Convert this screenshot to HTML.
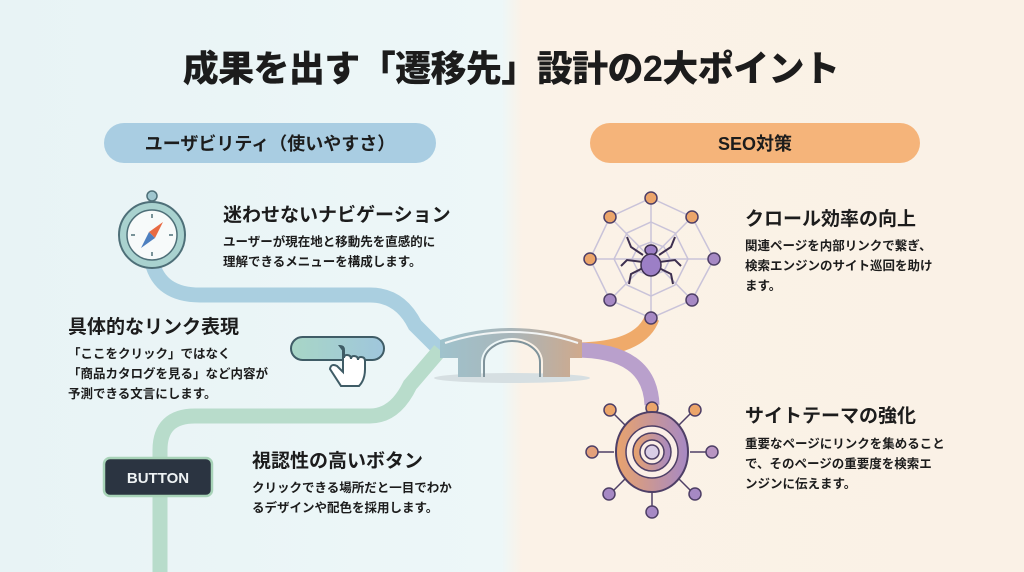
<!DOCTYPE html>
<html><head><meta charset="utf-8"><style>
body{margin:0;width:1024px;height:572px;overflow:hidden;font-family:"Liberation Sans","Noto Sans CJK JP",sans-serif;}
svg{display:block}
text{font-family:"Liberation Sans","Noto Sans CJK JP",sans-serif;fill:#1c1c1c;font-weight:bold}
.h{font-size:19px}
.b{font-size:12.5px}
</style></head><body>
<svg width="1024" height="572" viewBox="0 0 1024 572" xmlns="http://www.w3.org/2000/svg">
<defs>
<linearGradient id="bg" x1="0" x2="1"><stop offset="0" stop-color="#e8f3f5"/><stop offset="0.49" stop-color="#edf7f8"/><stop offset="0.51" stop-color="#fbf2e7"/><stop offset="1" stop-color="#faf1e6"/></linearGradient>
<linearGradient id="br" x1="0" x2="1"><stop offset="0" stop-color="#9fc2cc"/><stop offset="0.5" stop-color="#a9b6ba"/><stop offset="1" stop-color="#cfa98c"/></linearGradient>
<linearGradient id="tg" x1="0" x2="1"><stop offset="0" stop-color="#e9a36c"/><stop offset="1" stop-color="#a689c4"/></linearGradient>
<linearGradient id="lb" x1="0" x2="1"><stop offset="0" stop-color="#a8d6c6"/><stop offset="1" stop-color="#9fc6dc"/></linearGradient>
</defs>
<rect width="1024" height="572" fill="url(#bg)"/>
<text x="511" y="81" text-anchor="middle" style="font-size:36px;font-weight:900;letter-spacing:-0.6px">成果を出す「遷移先」設計の2大ポイント</text>
<rect x="104" y="123" width="332" height="40" rx="20" fill="#a9cde2"/>
<text x="270" y="150" text-anchor="middle" style="font-size:18px">ユーザビリティ（使いやすさ）</text>
<rect x="590" y="123" width="330" height="40" rx="20" fill="#f5b47a"/>
<text x="755" y="150" text-anchor="middle" style="font-size:18px">SEO対策</text>

<path d="M152 262 Q160 295 200 295 L370 295 Q400 295 415 325 L440 350" fill="none" stroke="#aacfe0" stroke-width="15"/>
<path d="M160 572 L160 450 Q160 416 195 416 L370 416 Q395 416 410 385 L440 350" fill="none" stroke="#b8dccb" stroke-width="15"/>
<path d="M575 350 Q640 350 652 318" fill="none" stroke="#efaa6a" stroke-width="15"/>
<path d="M575 350 Q650 350 652 405" fill="none" stroke="#b9a0cc" stroke-width="15"/>
<ellipse cx="512" cy="378" rx="78" ry="5" fill="#d6dfe2"/>
<path d="M440 340 Q512 316 582 340 L582 358 L570 358 L570 377 L543 377 L543 362 A31 24 0 0 0 481 362 L481 377 L458 377 L458 358 L440 358 Z" fill="url(#br)"/>
<path d="M445 343 Q512 321 578 343" fill="none" stroke="#f2f5f5" stroke-width="2"/>
<path d="M484 377 L484 362 A28 21 0 0 1 540 362 L540 377" fill="none" stroke="#7f939b" stroke-width="2"/>

<circle cx="152" cy="196" r="5" fill="#9fc6cf" stroke="#4e6f78" stroke-width="1.5"/>
<circle cx="152" cy="235" r="33" fill="#a9d2cf" stroke="#4e6f78" stroke-width="2"/>
<circle cx="152" cy="235" r="25" fill="#f7fafa" stroke="#4e6f78" stroke-width="1.5"/>
<path d="M152 214v4M152 252v4M131 235h4M169 235h4" stroke="#4e6f78" stroke-width="1.5"/>
<path d="M163 222 L155 238 L149 232Z" fill="#e86a43"/>
<path d="M141 248 L149 232 L155 238Z" fill="#4d7fbf"/>

<text class="h" x="223" y="221">迷わせないナビゲーション</text>
<text class="b" x="223" y="246">ユーザーが現在地と移動先を直感的に</text>
<text class="b" x="223" y="266">理解できるメニューを構成します。</text>

<text class="h" x="68" y="333">具体的なリンク表現</text>
<text class="b" x="68" y="358">「ここをクリック」ではなく</text>
<text class="b" x="68" y="378">「商品カタログを見る」など内容が</text>
<text class="b" x="68" y="398">予測できる文言にします。</text>
<rect x="291" y="337" width="93" height="23" rx="11.5" fill="url(#lb)" stroke="#3f5c66" stroke-width="2"/>
<path d="M343 350 v22 l-6-6 q-6-3-7 3 l11 17 h18 q6-6 6-17 v-8 q0-4-4-4 q-3 0-3 3 q0-4-4-4 q-3 0-3 3 q0-4-4-4 q-3 0-3 3 v-8 q0-4-4-4 z" fill="#fff" stroke="#3f5c66" stroke-width="2"/>

<rect x="104" y="458" width="108" height="38" rx="6" fill="#2b3441" stroke="#a8d3b8" stroke-width="2.5"/>
<text x="158" y="483" text-anchor="middle" style="font-size:15px;fill:#eef2f4">BUTTON</text>
<text class="h" x="252" y="467">視認性の高いボタン</text>
<text class="b" x="252" y="492">クリックできる場所だと一目でわか</text>
<text class="b" x="252" y="512">るデザインや配色を採用します。</text>

<g stroke="#c9c3d9" stroke-width="1.5" fill="none">
<polygon points="651,198 692,217 714,259 692,300 651,318 610,300 590,259 610,217"/>
<polygon points="651,222 675,233 688,259 675,285 651,296 627,285 614,259 627,233"/>
<polygon points="651,242 664,247 670,259 664,271 651,276 638,271 632,259 638,247"/>
<path d="M651 198V318M590 259H714M610 217L692 300M692 217L610 300"/>
</g>
<g stroke="#3d2f4f" stroke-width="2" fill="none">
<path d="M643 255 l-12-8 l-4-10M643 262 l-16 -2 l-6 6M643 268 l-12 6 l-2 10M659 255 l12-8 l4-10M659 262 l16 -2 l6 6M659 268 l12 6 l2 10"/>
</g>
<ellipse cx="651" cy="250" rx="6" ry="5" fill="#9c7fc6" stroke="#3d2f4f" stroke-width="1.5"/>
<ellipse cx="651" cy="265" rx="10" ry="11" fill="#9c7fc6" stroke="#3d2f4f" stroke-width="1.5"/>
<g stroke="#4e3f66" stroke-width="1.5">
<circle cx="651" cy="198" r="6" fill="#eca56a"/><circle cx="610" cy="217" r="6" fill="#eca56a"/><circle cx="692" cy="217" r="6" fill="#eca56a"/>
<circle cx="590" cy="259" r="6" fill="#eca56a"/><circle cx="714" cy="259" r="6" fill="#a689c4"/>
<circle cx="610" cy="300" r="6" fill="#a689c4"/><circle cx="692" cy="300" r="6" fill="#a689c4"/><circle cx="651" cy="318" r="6" fill="#a689c4"/>
</g>
<text class="h" x="745" y="225">クロール効率の向上</text>
<text class="b" x="745" y="250">関連ページを内部リンクで繋ぎ、</text>
<text class="b" x="745" y="270">検索エンジンのサイト巡回を助け</text>
<text class="b" x="745" y="290">ます。</text>

<g stroke="#4e3f66" stroke-width="1.5">
<path d="M652 414V420M614 414L626 426M690 414L678 426M598 452H614M706 452H690M614 490L626 478M690 490L678 478M652 506V492"/>
<circle cx="652" cy="408" r="6" fill="#eca56a"/><circle cx="610" cy="410" r="6" fill="#eca56a"/><circle cx="695" cy="410" r="6" fill="#eca56a"/>
<circle cx="592" cy="452" r="6" fill="#e3a07a"/><circle cx="712" cy="452" r="6" fill="#b895c2"/>
<circle cx="609" cy="494" r="6" fill="#a689c4"/><circle cx="695" cy="494" r="6" fill="#a689c4"/><circle cx="652" cy="512" r="6" fill="#a689c4"/>
<ellipse cx="652" cy="452" rx="36" ry="40" fill="url(#tg)" stroke-width="2"/>
<circle cx="652" cy="452" r="26" fill="#fbeee6"/>
<circle cx="652" cy="452" r="19" fill="url(#tg)"/>
<circle cx="652" cy="452" r="12" fill="#fbeee6"/>
<circle cx="652" cy="452" r="7" fill="#d9cde6"/>
</g>
<text class="h" x="745" y="422">サイトテーマの強化</text>
<text class="b" x="745" y="448">重要なページにリンクを集めること</text>
<text class="b" x="745" y="468">で、そのページの重要度を検索エ</text>
<text class="b" x="745" y="488">ンジンに伝えます。</text>
</svg>
</body></html>
